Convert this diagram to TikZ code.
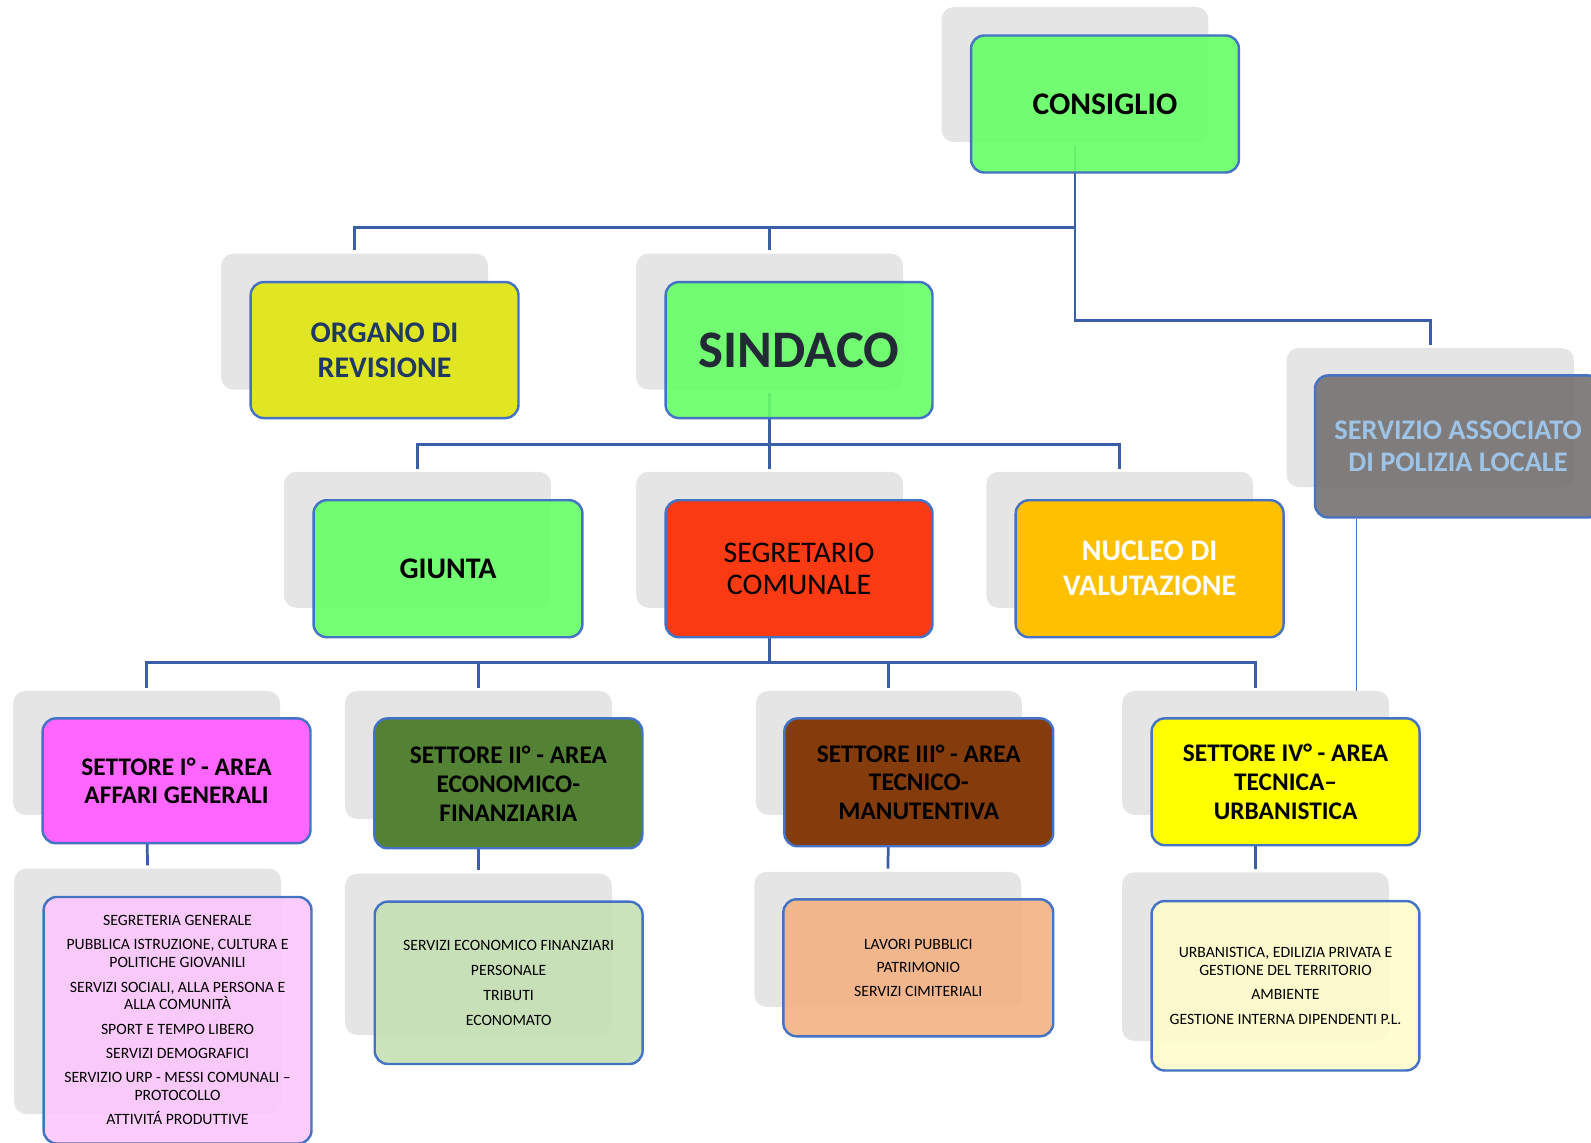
\documentclass[tikz,border=0pt]{standalone}
\usepackage{fontspec}
\setmainfont{Carlito}
\definecolor{shgray}{HTML}{E5E5E5}
\definecolor{connblue}{HTML}{3B5EA8}
\definecolor{bordblue}{HTML}{4472C4}
\definecolor{limeg}{HTML}{66FF66}
\definecolor{orgyel}{HTML}{E1E623}
\definecolor{orgtxt}{HTML}{1F3864}
\definecolor{sindtxt}{HTML}{222A35}
\definecolor{segred}{HTML}{F93A12}
\definecolor{nucorange}{HTML}{FFC000}
\definecolor{servgray}{HTML}{767171}
\definecolor{servtxt}{HTML}{9DC3E6}
\definecolor{pinkA}{HTML}{FF66FF}
\definecolor{greenB}{HTML}{548235}
\definecolor{brownC}{HTML}{843C0C}
\definecolor{yellowD}{HTML}{FFFF00}
\definecolor{pinkL}{HTML}{FCC7FC}
\definecolor{greenL}{HTML}{C5E0B4}
\definecolor{orangeL}{HTML}{F4B183}
\definecolor{yellowL}{HTML}{FFFDCB}
\newcommand\fsz[2]{\fontsize{#1}{#2}\selectfont}
\begin{document}
\begin{tikzpicture}[x=1pt,y=-1pt,
  shadowbox/.style={fill=shgray, draw=none, rounded corners=12pt, inner sep=0pt},
  mainbox/.style={draw=bordblue, line width=2.4pt, rounded corners=13pt, align=center, inner sep=0pt, text=black},
  seethru/.style={fill opacity=0.9, text opacity=1},
  conn/.style={draw=connblue, line width=2.7pt, shorten >=3pt},
  thinconn/.style={draw=bordblue, line width=1.3pt},
  bigtxt/.style={font=\fsz{29.5}{34.5}\bfseries},
  settxt/.style={font=\fsz{25}{28.5}\bfseries},
  leaftxt/.style={font=\fsz{15.5}{17.5}},
]
\useasboundingbox (0,0) rectangle (1568,1126);
\clip (0,0) rectangle (1568,1126);

% ---- shadow (back) shapes, named nodes
\node[shadowbox, minimum width=263pt, minimum height=133pt] (cons)   at (1059.5,73.5) {};
\node[shadowbox, minimum width=263pt, minimum height=134pt] (organo) at (349.5,317) {};
\node[shadowbox, minimum width=263pt, minimum height=134pt] (sind)   at (758.5,317) {};
\node[shadowbox, minimum width=283pt, minimum height=137pt] (serv)   at (1409.5,411.5) {};
\node[shadowbox, minimum width=263pt, minimum height=134pt] (giunta) at (411.5,532) {};
\node[shadowbox, minimum width=263pt, minimum height=134pt] (segr)   at (758.5,532) {};
\node[shadowbox, minimum width=263pt, minimum height=134pt] (nucleo) at (1103.5,532) {};
\node[shadowbox, minimum width=263pt, minimum height=122pt] (s1) at (144.5,742) {};
\node[shadowbox, minimum width=263pt, minimum height=126pt] (s2) at (471.5,744) {};
\node[shadowbox, minimum width=262pt, minimum height=122pt] (s3) at (876,742) {};
\node[shadowbox, minimum width=263pt, minimum height=122pt] (s4) at (1237.5,742) {};
\node[shadowbox, minimum width=263pt, minimum height=242pt] (l1) at (145.5,977) {};
\node[shadowbox, minimum width=263pt, minimum height=159pt] (l2) at (471.5,940.5) {};
\node[shadowbox, minimum width=263pt, minimum height=133pt] (l3) at (875,925.75) {};
\node[shadowbox, minimum width=263pt, minimum height=166pt] (l4) at (1237.3,942.8) {};

% ---- connectors
\coordinate (busA) at (0,224);
\coordinate (busB) at (0,316);
\coordinate (busC) at (0,438);
\coordinate (busD) at (0,653);
\draw[conn, shorten <=4pt] (cons.south) |- (organo.north |- busA) -- (organo.north);
\draw[conn, shorten <=4pt] (cons.south) |- (sind.north |- busA) -- (sind.north);
\draw[conn, shorten <=4pt] (cons.south) |- (serv.north |- busB) -- (serv.north);
\draw[conn, shorten <=3pt] (sind.south) |- (giunta.north |- busC) -- (giunta.north);
\draw[conn, shorten <=3pt] (sind.south) |- (segr.north |- busC) -- (segr.north);
\draw[conn, shorten <=3pt] (sind.south) |- (nucleo.north |- busC) -- (nucleo.north);
\draw[conn] (segr.south) |- (s1.north |- busD) -- (s1.north);
\draw[conn] (segr.south) |- (s2.north |- busD) -- (s2.north);
\draw[conn] (segr.south) |- (s3.north |- busD) -- (s3.north);
\draw[conn] (segr.south) |- (s4.north |- busD) -- (s4.north);
\draw[conn] (s1.south) -- (l1.north);
\draw[conn] (s2.south) -- (l2.north);
\draw[conn] (s3.south) -- (l3.north);
\draw[conn] (s4.south) -- (l4.north);

% ---- front boxes
\node[mainbox, seethru, fill=limeg, minimum width=264pt, minimum height=135pt, font=\fsz{31}{36}\bfseries] (consM) at (1089,102.5) {CONSIGLIO};
\node[mainbox, fill=orgyel, minimum width=264pt, minimum height=134pt, bigtxt, text=orgtxt] (organoM) at (379,345) {ORGANO DI\\REVISIONE};
\node[mainbox, seethru, fill=limeg, minimum width=263pt, minimum height=134pt, font=\fsz{52}{60}\bfseries, text=sindtxt] (sindM) at (787.5,345) {SINDACO};
\node[mainbox, seethru, fill=servgray, minimum width=282pt, minimum height=140pt, font=\fsz{28}{32}\bfseries, text=servtxt] (servM) at (1437,440) {SERVIZIO ASSOCIATO\\DI POLIZIA LOCALE};
\node[mainbox, seethru, fill=limeg, minimum width=265pt, minimum height=135pt, bigtxt] (giuntaM) at (441.5,560.5) {GIUNTA};
\node[mainbox, fill=segred, minimum width=263pt, minimum height=135pt, font=\fsz{29.5}{31.5}] (segrM) at (787.5,560.5) {SEGRETARIO\\COMUNALE};
\node[mainbox, fill=nucorange, minimum width=264pt, minimum height=135pt, bigtxt, text=white] (nucleoM) at (1133,560.5) {NUCLEO DI\\VALUTAZIONE};

\node[mainbox, fill=pinkA, minimum width=264pt, minimum height=123pt, settxt] (s1M) at (174,769.5) {SETTORE I° - AREA\\AFFARI GENERALI};
\node[mainbox, fill=greenB, minimum width=264pt, minimum height=128pt, settxt] (s2M) at (501,772) {SETTORE II° - AREA\\ECONOMICO-\\FINANZIARIA};
\node[mainbox, fill=brownC, minimum width=265pt, minimum height=126pt, settxt] (s3M) at (905.5,771) {SETTORE III° - AREA\\TECNICO-\\MANUTENTIVA};
\node[mainbox, fill=yellowD, minimum width=264pt, minimum height=125pt, settxt] (s4M) at (1267,770.5) {SETTORE IV° - AREA\\TECNICA–\\URBANISTICA};

\node[mainbox, seethru, fill=pinkL, minimum width=264pt, minimum height=243pt, leaftxt] (l1M) at (175,1005.5)
  {SEGRETERIA GENERALE\\[6.5pt]PUBBLICA ISTRUZIONE, CULTURA E\\POLITICHE GIOVANILI\\[6.5pt]SERVIZI SOCIALI, ALLA PERSONA E\\ALLA COMUNITÀ\\[6.5pt]SPORT E TEMPO LIBERO\\[6.5pt]SERVIZI DEMOGRAFICI\\[6.5pt]SERVIZIO URP - MESSI COMUNALI –\\PROTOCOLLO\\[6.5pt]ATTIVITÁ PRODUTTIVE};
\node[mainbox, seethru, fill=greenL, minimum width=264pt, minimum height=160pt, leaftxt] (l2M) at (501.3,968.6)
  {SERVIZI ECONOMICO FINANZIARI\\[7pt]PERSONALE\\[7pt]TRIBUTI\\[7pt]ECONOMATO};
\node[mainbox, seethru, fill=orangeL, minimum width=266pt, minimum height=135pt, leaftxt] (l3M) at (905,953.8)
  {LAVORI PUBBLICI\\[6pt]PATRIMONIO\\[6pt]SERVIZI CIMITERIALI};
\node[mainbox, seethru, fill=yellowL, minimum width=264pt, minimum height=167pt, leaftxt] (l4M) at (1266.9,971.5)
  {URBANISTICA, EDILIZIA PRIVATA E\\GESTIONE DEL TERRITORIO\\[6.5pt]AMBIENTE\\[6.5pt]GESTIONE INTERNA DIPENDENTI P.L.};

% ---- thin link from SERVIZIO to SETTORE IV
\coordinate (servfoot) at ([xshift=42pt]servM.south west);
\draw[thinconn] (servfoot) -- (servfoot |- s4.north);
\end{tikzpicture}
\end{document}
